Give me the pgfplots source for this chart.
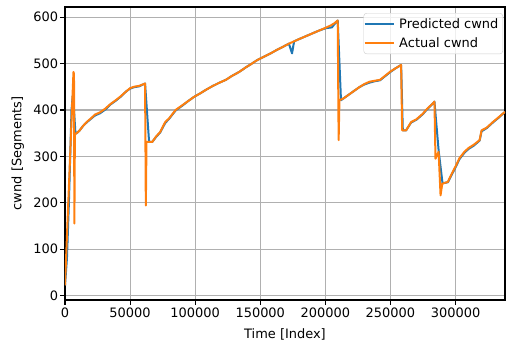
\documentclass[border=0pt]{standalone}
\usepackage{pgfplots}
\pgfplotsset{compat=1.18}
\usepackage{fontspec}
\setmainfont{DejaVu Sans}
\definecolor{mblue}{HTML}{1F77B4}
\definecolor{morange}{HTML}{FF7F0E}
\definecolor{mgrid}{HTML}{B0B0B0}
\begin{document}
\begin{tikzpicture}
\path[use as bounding box] (0,0) rectangle (506bp,344bp);
\begin{axis}[
  at={(65bp,44bp)}, anchor=south west,
  scale only axis, width=440bp, height=293bp,
  xmin=0, xmax=338000, ymin=-9.7, ymax=622,
  xtick={0,50000,100000,150000,200000,250000,300000},
  xticklabels={0,50000,100000,150000,200000,250000,300000},
  ytick={0,100,200,300,400,500,600},
  yticklabels={0,100,200,300,400,500,600},
  scaled x ticks=false,
  tick pos=left, tick align=outside,
  major tick length=4.7bp,
  every tick/.style={black, line width=1.07bp},
  axis line style={line width=1.07bp},
  grid=major,
  major grid style={mgrid, line width=1.07bp},
  tick label style={font=\fontsize{13}{15}\selectfont},
  xticklabel style={inner sep=2.5bp},
  yticklabel style={inner sep=2bp},
  label style={font=\fontsize{13}{15}\selectfont},
  xlabel={Time [Index]}, ylabel={cwnd [Segments]},
  xlabel style={inner sep=0bp, yshift=-9bp},
  ylabel style={inner sep=0bp, yshift=7bp},
  legend style={at={(1,1)}, anchor=north east, xshift=-2bp, yshift=-6bp,
    font=\fontsize{13}{15}\selectfont, draw={rgb,255:red,204;green,204;blue,204},
    rounded corners=3bp, fill=white, fill opacity=0.8, text opacity=1,
    inner xsep=0bp, inner ysep=3bp, row sep=4bp,
    nodes={inner xsep=4.5bp, inner ysep=2bp}},
  legend cell align=left,
  legend image code/.code={\draw[#1] (0bp,0bp) -- (29bp,0bp);},
]
\addplot[mblue, line width=2bp, line join=round] coordinates {
(0,22) (1500,80) (3000,200) (5000,400) (6000,432) (6500,420) (8000,350) (8500,349)
(11000,355) (14000,366) (17000,374) (20000,381) (23000,388) (27000,393) (31000,401)
(35000,412) (39000,420) (43000,429) (47000,440) (50000,446) (53000,449) (57000,451)
(61500,457) (64600,331) (67000,331) (70000,342) (73000,351) (77000,372) (80000,381)
(85000,399) (90000,409) (95000,420) (99000,428) (104000,436) (108000,443) (113000,451)
(118000,458) (123600,465) (128000,473) (133800,482) (139000,492) (143000,499)
(147900,508) (153000,515) (158000,522) (163000,530) (168000,537) (172000,543)
(174400,522) (176000,548) (180000,553) (185000,559) (190000,565) (195000,571)
(200000,576) (202000,577) (205000,578) (207000,585) (209500,593) (212000,421)
(214000,425) (218000,433) (222000,441) (226000,449) (230000,455) (234000,459)
(238000,462) (242000,464) (246000,473) (250000,482) (254000,490) (258200,497)
(259500,356) (262000,356) (265900,373) (270000,379) (274900,391) (278000,401)
(282600,414) (283800,418) (287000,313) (290000,242) (294100,244) (297000,260)
(300500,279) (303000,294) (306900,308) (310000,316) (314000,323) (318500,334)
(320000,354) (324000,361) (328700,373) (333000,383) (338000,396)
};
\addlegendentry{Predicted cwnd}
\addplot[morange, line width=2bp, line join=round] coordinates {
(0,22) (6500,482) (6900,478) (7200,155) (7600,349) (8500,349) (11000,355) (14000,366)
(17000,375) (20000,382) (23000,390) (27000,395) (31000,403) (35000,413) (39000,421)
(43000,430) (47000,440) (50000,447) (53000,450) (57000,452) (61500,457) (62100,194)
(62600,331) (67000,331) (70000,343) (73000,352) (77000,374) (80000,382) (85000,400)
(90000,410) (95000,420) (99000,428) (104000,436) (108000,443) (113000,451)
(118000,458) (123600,465) (128000,473) (133800,482) (139000,492) (143000,499)
(147900,508) (153000,515) (158000,522) (163000,530) (168000,537) (172000,543)
(176000,548) (180000,553) (185000,559) (190000,565) (195000,571) (200000,577)
(204000,582) (207000,587) (209500,593) (210200,335) (210800,421) (214000,425)
(218000,433) (222000,441) (226000,449) (230000,456) (234000,461) (238000,463)
(242000,465) (246000,474) (250000,483) (254000,490) (258200,497) (259000,356)
(262000,356) (265900,374) (270000,380) (274900,392) (278000,402) (282600,414)
(283800,418) (284600,295) (287000,310) (288500,216) (289800,241) (294100,245)
(297000,262) (300500,281) (303000,296) (306900,310) (310000,318) (314000,325)
(318500,335) (320000,356) (324000,362) (328700,374) (333000,384) (338000,396)
};
\addlegendentry{Actual cwnd}
\end{axis}
\end{tikzpicture}
\end{document}
